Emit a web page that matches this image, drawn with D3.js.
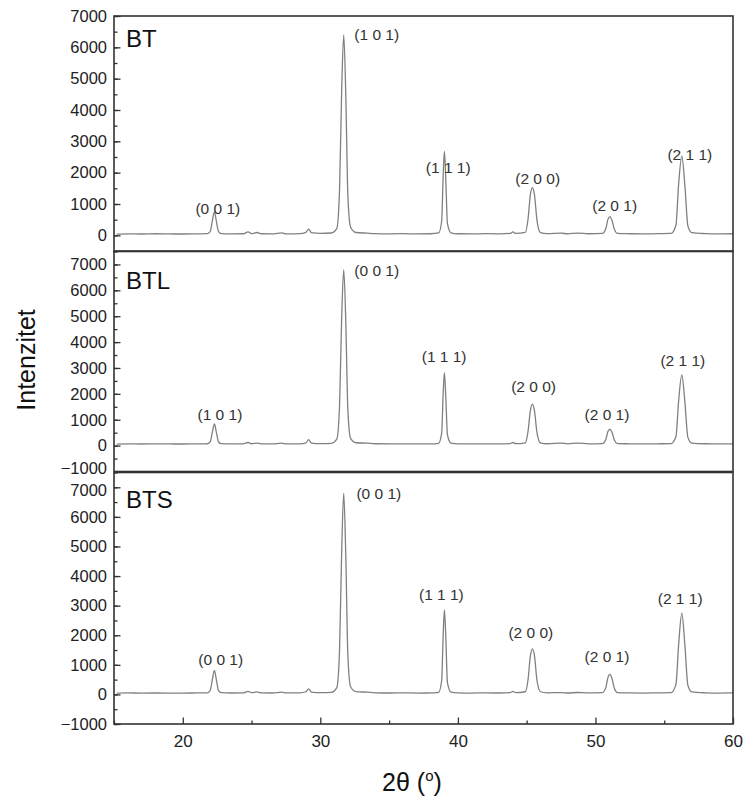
<!DOCTYPE html>
<html>
<head>
<meta charset="utf-8">
<script src="https://cdn.jsdelivr.net/npm/d3@7"></script>
<style>
  html, body { margin: 0; padding: 0; background: #fff; }
  svg { display: block; font-family: "Liberation Sans", Arial, Helvetica, sans-serif; }
</style>
</head>
<body>
<svg id="chart" width="744" height="798"></svg>
<script>
// ---- DATA ----
const angle = [
  15.2, 16, 17, 18, 19, 20, 21, 21.8,
  22.0, 22.15, 22.3, 22.45, 22.6, 22.8,
  23.5, 24.4, 24.75, 25.0, 25.4, 25.7, 26.5, 27.2, 27.5, 28.5, 28.95, 29.15, 29.35, 30, 30.8,
  31.2, 31.4, 31.55, 31.7, 31.85, 32.0, 32.2, 32.6,
  33.4, 34, 35, 36, 37, 38, 38.6,
  38.82, 38.93, 39.02, 39.12, 39.24, 39.5,
  40, 41, 42, 43, 43.8, 44.0, 44.2, 44.9,
  45.1, 45.27, 45.42, 45.57, 45.75, 46.0,
  46.5, 47.5, 48, 48.7, 49.5, 50.5,
  50.75, 50.9, 51.05, 51.2, 51.38, 51.6,
  52.5, 53.5, 54.5, 55.5,
  55.85, 56.05, 56.28, 56.5, 56.72, 57,
  58, 59, 60
];

const intensityBT = [
  40, 48, 42, 50, 45, 42, 48, 55,
  130, 470, 750, 430, 120, 55,
  45, 50, 110, 55, 90, 50, 45, 80, 48, 52, 95, 200, 85, 60, 75,
  220, 1500, 4600, 6400, 4500, 1300, 260, 90,
  70, 55, 48, 52, 45, 50, 75,
  450, 1900, 2680, 1800, 380, 80,
  50, 45, 52, 48, 60, 110, 60, 95,
  520, 1300, 1520, 1280, 480, 90,
  55, 70, 48, 72, 50, 62,
  210, 500, 600, 480, 190, 62,
  50, 45, 52, 60,
  320, 1650, 2530, 1600, 300, 85,
  55, 45, 50
];

const intensityBTL = [
  60, 68, 62, 70, 64, 62, 68, 72,
  150, 520, 835, 490, 140, 75,
  65, 70, 120, 72, 100, 68, 64, 95, 66, 70, 110, 230, 100, 75, 90,
  250, 1600, 4900, 6800, 4800, 1400, 280, 110,
  95, 72, 66, 70, 64, 68, 90,
  480, 2000, 2820, 1900, 420, 95,
  70, 64, 70, 66, 78, 120, 75, 110,
  550, 1350, 1600, 1330, 500, 105,
  72, 100, 66, 100, 68, 80,
  230, 540, 640, 520, 210, 80,
  70, 64, 70, 78,
  340, 1750, 2730, 1700, 320, 100,
  72, 65, 68
];

const intensityBTS = [
  42, 50, 44, 48, 46, 44, 50, 55,
  140, 500, 810, 470, 130, 58,
  48, 52, 105, 58, 85, 52, 48, 75, 50, 55, 90, 190, 80, 58, 70,
  230, 1550, 4800, 6800, 4700, 1350, 260, 95,
  75, 55, 48, 55, 46, 50, 72,
  470, 2000, 2860, 1950, 400, 80,
  52, 46, 52, 48, 62, 105, 58, 90,
  500, 1300, 1540, 1300, 470, 90,
  55, 60, 48, 65, 50, 60,
  220, 560, 675, 540, 200, 62,
  50, 46, 52, 58,
  330, 1700, 2750, 1680, 310, 85,
  55, 46, 50
];

const sampleNames = ["BT", "BTL", "BTS"];

const peakTextBT  = ["(0 0 1)", "(1 0 1)", "(1 1 1)", "(2 0 0)", "(2 0 1)", "(2 1 1)"];
const peakTextBTL = ["(1 0 1)", "(0 0 1)", "(1 1 1)", "(2 0 0)", "(2 0 1)", "(2 1 1)"];
const peakTextBTS = ["(0 0 1)", "(0 0 1)", "(1 1 1)", "(2 0 0)", "(2 0 1)", "(2 1 1)"];
// label anchors in data units (2θ, intensity)
const peakAtBT  = [22.55, 34.1, 39.3, 45.8, 51.4, 56.86];
const peakHtBT  = [680, 6250, 1980, 1630, 780, 2420];
const peakAtBTL = [22.7, 34.1, 39.0, 45.5, 50.84, 56.35];
const peakHtBTL = [1000, 6540, 3230, 2080, 1000, 3080];
const peakAtBTS = [22.76, 34.25, 38.8, 45.3, 50.84, 56.16];
const peakHtBTS = [980, 6620, 3180, 1890, 1080, 3070];

const xTicksMajor = [20, 30, 40, 50, 60];
const xTicksMinor = [15, 25, 35, 45, 55];
const xLabel = "2θ (";
const yLabel = "Intenzitet";

// ---- LAYOUT ----
const svg = d3.select("#chart");
const left = 114, right = 733;
const x = d3.scaleLinear().domain([15, 60]).range([left, right]);

const panels = [
  { name: sampleNames[0], vals: intensityBT,  text: peakTextBT,  at: peakAtBT,  ht: peakHtBT,
    domain: [-500, 7000], top: 16, bottom: 251, labelDy: 31,
    majors: d3.range(0, 7001, 1000), minors: d3.range(-500, 7001, 500) },
  { name: sampleNames[1], vals: intensityBTL, text: peakTextBTL, at: peakAtBTL, ht: peakHtBTL,
    domain: [-1000, 7500], top: 251.5, bottom: 471.5, labelDy: 37,
    majors: d3.range(-1000, 7001, 1000), minors: d3.range(-1000, 7501, 500) },
  { name: sampleNames[2], vals: intensityBTS, text: peakTextBTS, at: peakAtBTS, ht: peakHtBTS,
    domain: [-1000, 7500], top: 472.5, bottom: 724, labelDy: 35,
    majors: d3.range(-1000, 7001, 1000), minors: d3.range(-1000, 7501, 500) }
];

const axisColor = "#333";

panels.forEach((p, i) => {
  const y = d3.scaleLinear().domain(p.domain).range([p.bottom, p.top]);
  const g = svg.append("g");

  // data line
  const pts = angle.map((a, k) => [a, p.vals[k]]);
  const line = d3.line().x(d => x(d[0])).y(d => y(d[1])).curve(d3.curveMonotoneX);
  g.append("path").datum(pts)
    .attr("d", line)
    .attr("fill", "none")
    .attr("stroke", "#808080")
    .attr("stroke-width", 1.3);

  // minor y ticks
  const minor = g.append("g").attr("transform", `translate(${left},0)`)
    .call(d3.axisLeft(y).tickValues(p.minors).tickSize(-3.5).tickFormat(""));
  minor.select(".domain").remove();
  minor.selectAll("line").attr("stroke", axisColor).attr("stroke-width", 1.3);

  // major y ticks + labels
  const major = g.append("g").attr("transform", `translate(${left},0)`)
    .call(d3.axisLeft(y).tickValues(p.majors).tickSize(-6.5).tickPadding(7).tickFormat(d3.format("d")));
  major.select(".domain").remove();
  major.selectAll("line").attr("stroke", axisColor).attr("stroke-width", 1.3);
  major.selectAll("text").attr("font-size", 16.5).attr("fill", "#222")
    .attr("font-family", "Liberation Sans, Arial, sans-serif");
  // keep stacked edge labels from colliding between panels
  if (i === 1) major.selectAll("text").filter(d => d === -1000).attr("dy", "0.12em");
  if (i === 2) major.selectAll("text").filter(d => d === 7000).attr("dy", "0.5em");

  // frame
  g.append("rect")
    .attr("x", left).attr("y", p.top)
    .attr("width", right - left).attr("height", p.bottom - p.top)
    .attr("fill", "none").attr("stroke", axisColor).attr("stroke-width", 1.6);

  // sample name
  g.append("text")
    .attr("x", left + 12).attr("y", p.top + p.labelDy)
    .attr("font-size", 24).attr("fill", "#111")
    .text(p.name);

  // peak labels
  g.selectAll("text.peak").data(p.text).enter().append("text")
    .attr("class", "peak")
    .attr("x", (d, k) => x(p.at[k]))
    .attr("y", (d, k) => y(p.ht[k]))
    .attr("text-anchor", "middle")
    .attr("font-size", 15.5).attr("fill", "#333")
    .text(d => d);

  // bottom x axis only on last panel
  if (i === panels.length - 1) {
    const xm = g.append("g").attr("transform", `translate(0,${p.bottom})`)
      .call(d3.axisBottom(x).tickValues(xTicksMinor).tickSize(-3.5).tickFormat(""));
    xm.select(".domain").remove();
    xm.selectAll("line").attr("stroke", axisColor).attr("stroke-width", 1.3);
    const xM = g.append("g").attr("transform", `translate(0,${p.bottom})`)
      .call(d3.axisBottom(x).tickValues(xTicksMajor).tickSize(-6.5).tickPadding(11).tickFormat(d3.format("d")));
    xM.select(".domain").remove();
    xM.selectAll("line").attr("stroke", axisColor).attr("stroke-width", 1.3);
    xM.selectAll("text").attr("font-size", 17).attr("fill", "#222")
      .attr("font-family", "Liberation Sans, Arial, sans-serif");
  }
});

// axis titles
svg.append("text")
  .attr("transform", "translate(35,360) rotate(-90)")
  .attr("text-anchor", "middle")
  .attr("font-size", 25).attr("fill", "#111")
  .text(yLabel);

const xt = svg.append("text")
  .attr("x", 412).attr("y", 791)
  .attr("text-anchor", "middle")
  .attr("font-size", 25).attr("fill", "#111");
xt.append("tspan").text(xLabel);
xt.append("tspan").attr("font-size", 15).attr("dy", -10).text("o");
xt.append("tspan").attr("dy", 10).text(")");
</script>
</body>
</html>
